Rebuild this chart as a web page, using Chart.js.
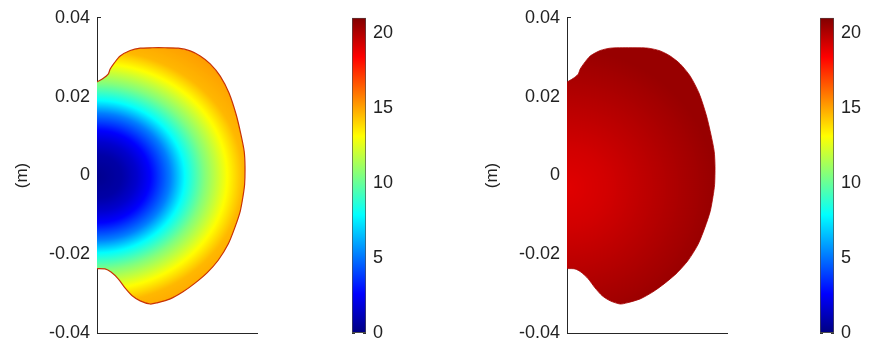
<!DOCTYPE html>
<html>
<head>
<meta charset="utf-8">
<script src="https://cdn.jsdelivr.net/npm/chart.js@4.4.1/dist/chart.umd.min.js"></script>
<style>
  html, body { margin: 0; padding: 0; background: #fff; }
  #wrap { position: relative; width: 870px; height: 351px; overflow: hidden; }
  .box { position: absolute; top: 0; height: 351px; }
</style>
</head>
<body>
<div id="wrap">
  <div class="box" style="left:0;width:300px"><canvas id="panelA"></canvas></div>
  <div class="box" style="left:340px;width:80px"><canvas id="barA"></canvas></div>
  <div class="box" style="left:470px;width:300px"><canvas id="panelB"></canvas></div>
  <div class="box" style="left:808px;width:62px"><canvas id="barB"></canvas></div>
</div>
<script>
// Cross-section boundary (m), traced clockwise from the upper point on the axis
const boundaryX = [0, 0.0015, 0.0028, 0.0033, 0.0043, 0.0058, 0.0083, 0.0108, 0.0138, 0.0170,
  0.0203, 0.0233, 0.0258, 0.0283, 0.0308, 0.0330, 0.0348, 0.0360, 0.0368, 0.0370,
  0.0369, 0.0365, 0.0358, 0.0345, 0.0328, 0.0303, 0.0275, 0.0245, 0.0215, 0.0183,
  0.0150, 0.0133, 0.0108, 0.0088, 0.0070, 0.0053, 0.0035, 0.0020, 0];
const boundaryY = [0.0237, 0.0246, 0.0257, 0.0270, 0.0285, 0.0303, 0.0317, 0.0323, 0.0324, 0.0324,
  0.0323, 0.0316, 0.0303, 0.0283, 0.0252, 0.0209, 0.0154, 0.0103, 0.0061, 0.0023,
  -0.0023, -0.0053, -0.0091, -0.0131, -0.0174, -0.0215, -0.0247, -0.0273, -0.0295, -0.0313,
  -0.0323, -0.0326, -0.0318, -0.0305, -0.0285, -0.0262, -0.0245, -0.0237, -0.0236];

// Left map: field value against midplane distance from the axis (m)
const leftRadius = [0, 0.00625, 0.010, 0.01325, 0.01825, 0.022, 0.02675, 0.0325, 0.0365, 0.045];
const leftValue  = [0.3, 0.8, 1.6, 2.6, 5.2, 7.9, 10.5, 13.1, 14.6, 15.3];
const leftCenter = [0, -0.0003];

// Right map: field value against midplane distance from the axis (m)
const rightRadius = [0, 0.010, 0.020, 0.030, 0.037];
const rightValue  = [19.0, 19.3, 19.75, 20.2, 20.5];
const rightCenter = [0, -0.003];

const yTicks = [-0.04, -0.02, 0, 0.02, 0.04];
const colorbarTicks = [0, 5, 10, 15, 20];
const colorMin = 0;
const colorMax = 21;

Chart.defaults.font.family = '"Liberation Sans", Arial, sans-serif';
Chart.defaults.font.size = 18;
Chart.defaults.color = '#222';

// MATLAB "jet" colormap
const JET_STOPS = [[0, [0, 0, 0.5]], [0.125, [0, 0, 1]], [0.375, [0, 1, 1]],
                   [0.625, [1, 1, 0]], [0.875, [1, 0, 0]], [1, [0.5, 0, 0]]];
function jet(t) {
  t = Math.min(1, Math.max(0, t));
  for (let i = 1; i < JET_STOPS.length; i++) {
    const [t1, c1] = JET_STOPS[i];
    const [t0, c0] = JET_STOPS[i - 1];
    if (t <= t1) {
      const f = (t - t0) / (t1 - t0);
      const c = c0.map((v, k) => Math.round(255 * (v + (c1[k] - v) * f)));
      return `rgb(${c[0]},${c[1]},${c[2]})`;
    }
  }
  return 'rgb(128,0,0)';
}
function valueAt(rs, vs, r) {
  if (r <= rs[0]) return vs[0];
  for (let i = 1; i < rs.length; i++) {
    if (r <= rs[i]) return vs[i - 1] + (vs[i] - vs[i - 1]) * (r - rs[i - 1]) / (rs[i] - rs[i - 1]);
  }
  return vs[vs.length - 1];
}

// Elliptical colour field painted through the chart's scales, used as the fill pattern
function fieldPattern(chart, field) {
  const { chartArea, scales } = chart;
  if (!chartArea || !scales.x || !scales.y) return null;
  const xs = scales.x, ys = scales.y;
  const cnv = document.createElement('canvas');
  cnv.width = chart.width; cnv.height = chart.height;
  const c = cnv.getContext('2d');
  const rMax = field.radius[field.radius.length - 1];
  const cx = xs.getPixelForValue(field.center[0]);
  const cy = ys.getPixelForValue(field.center[1]);
  const rx = xs.getPixelForValue(rMax) - xs.getPixelForValue(0);
  const ry = ys.getPixelForValue(0) - ys.getPixelForValue(rMax * field.squash);
  c.translate(cx, cy);
  c.scale(1, ry / rx);
  const g = c.createRadialGradient(0, 0, 0, 0, 0, rx);
  const N = 150;
  for (let i = 0; i <= N; i++) {
    const v = valueAt(field.radius, field.value, rMax * i / N);
    g.addColorStop(i / N, jet((v - colorMin) / (colorMax - colorMin)));
  }
  c.fillStyle = g;
  c.fillRect(-3000, -3000, 6000, 6000);
  return chart.ctx.createPattern(cnv, 'no-repeat');
}

function jetGradient(chart) {
  const { chartArea, scales } = chart;
  if (!chartArea || !scales.y) return 'rgb(0,0,255)';
  const y0 = scales.y.getPixelForValue(colorMin);
  const y1 = scales.y.getPixelForValue(colorMax);
  const g = chart.ctx.createLinearGradient(0, y0, 0, y1);
  JET_STOPS.forEach(([t]) => g.addColorStop(t, jet(t)));
  return g;
}

function fmtTick(v) {
  return v === 0 ? '0' : v.toFixed(2);
}

function panelConfig(field) {
  return {
    type: 'scatter',
    data: {
      datasets: [{
        data: boundaryX.map((x, i) => ({ x, y: boundaryY[i] })),
        showLine: true,
        fill: 'shape',
        tension: 0.25,
        pointRadius: 0,
        borderColor: field.edge,
        borderWidth: field.edgeWidth,
        backgroundColor: ctx => fieldPattern(ctx.chart, field) || field.fallback
      }]
    },
    options: {
      animation: false,
      responsive: true,
      maintainAspectRatio: false,
      events: [],
      layout: { padding: { top: 17, right: 43, bottom: 17, left: 0 } },
      plugins: { legend: { display: false }, tooltip: { enabled: false } },
      scales: {
        x: {
          type: 'linear', min: 0, max: 0.04,
          ticks: { display: false },
          grid: { display: false, drawTicks: false },
          border: { display: true, color: '#262626', width: 1 },
          afterFit(s) { s.height = 0; }
        },
        y: {
          type: 'linear', min: -0.04, max: 0.04,
          afterBuildTicks(s) { s.ticks = yTicks.map(v => ({ value: v })); },
          ticks: { padding: 7, callback: v => fmtTick(v) },
          grid: { drawTicks: false, color: '#262626', lineWidth: 1 },
          border: { display: true, color: '#262626', width: 1, dash: [3, 400] },
          title: { display: true, text: '(m)', font: { size: 17 }, padding: { top: 12, bottom: 0 } },
          afterFit(s) { s.width = 97; }
        }
      }
    }
  };
}

function colorbarConfig() {
  return {
    type: 'bar',
    data: {
      labels: [''],
      datasets: [{
        data: [[colorMin, colorMax]],
        backgroundColor: ctx => jetGradient(ctx.chart),
        borderColor: '#4d4d4d',
        borderWidth: 1,
        borderSkipped: false,
        barPercentage: 1,
        categoryPercentage: 1
      }]
    },
    options: {
      animation: false,
      responsive: true,
      maintainAspectRatio: false,
      events: [],
      layout: { padding: { top: 17, right: 0, bottom: 17, left: 12 } },
      plugins: { legend: { display: false }, tooltip: { enabled: false } },
      scales: {
        x: { display: false },
        y: {
          position: 'right', min: colorMin, max: colorMax, z: 1,
          afterBuildTicks(s) { s.ticks = colorbarTicks.map(v => ({ value: v })); },
          ticks: { padding: 7 },
          grid: { drawTicks: false, color: '#333', lineWidth: 1 },
          border: { display: false, dash: [3, 8] },
          afterFit(s) { s.width = s.chart.width - 12 - 14; }
        }
      }
    }
  };
}

new Chart(document.getElementById('panelA'), panelConfig({
  radius: leftRadius, value: leftValue, center: leftCenter, squash: 0.88,
  edge: 'rgb(200,50,5)', edgeWidth: 1.2, fallback: 'rgb(255,200,0)'
}));
new Chart(document.getElementById('barA'), colorbarConfig());
new Chart(document.getElementById('panelB'), panelConfig({
  radius: rightRadius, value: rightValue, center: rightCenter, squash: 0.95,
  edge: 'rgb(165,0,0)', edgeWidth: 0.8, fallback: 'rgb(200,0,0)'
}));
new Chart(document.getElementById('barB'), colorbarConfig());
</script>
</body>
</html>
